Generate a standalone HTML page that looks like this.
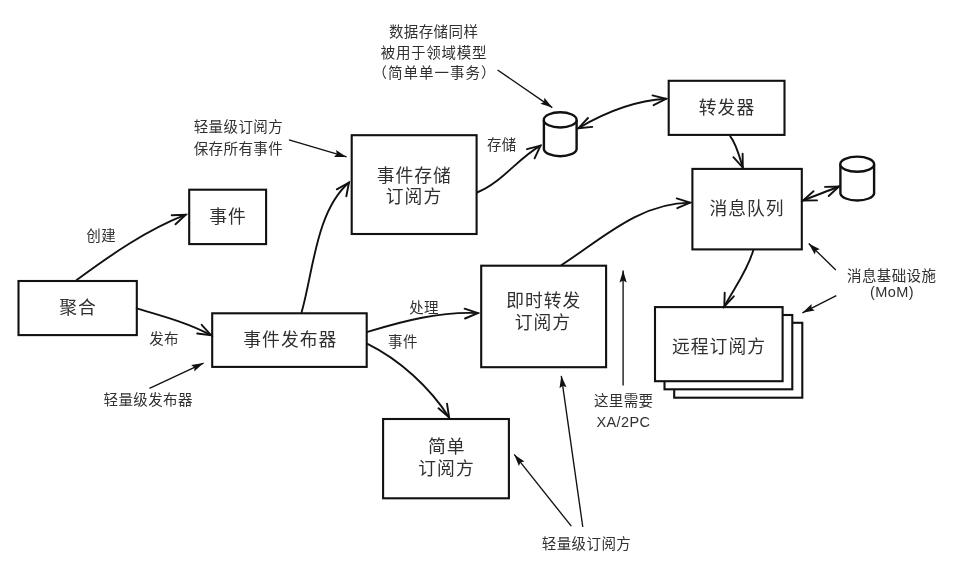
<!DOCTYPE html>
<html lang="zh-CN"><head><meta charset="utf-8"><title>事件发布与订阅</title>
<style>
html,body{margin:0;padding:0;background:#fff;}
body{width:957px;height:574px;overflow:hidden;}
svg{display:block;filter:grayscale(1) blur(0.45px);}
svg text{font-family:"Liberation Sans", "Noto Sans CJK SC", sans-serif;fill:#303030;font-weight:400;}
</style></head><body>
<svg width="957" height="574" viewBox="0 0 957 574">
<rect width="957" height="574" fill="#fff"/>
<rect x="674.2" y="322.8" width="128.1" height="74.9" fill="#fff" stroke="#111" stroke-width="2.1"/>
<rect x="664.5" y="315.0" width="127.8" height="74.3" fill="#fff" stroke="#111" stroke-width="2.1"/>
<rect x="655.0" y="307.1" width="127.6" height="74.1" fill="#fff" stroke="#111" stroke-width="2.1"/>
<rect x="18.5" y="281.0" width="118.3" height="54.1" fill="#fff" stroke="#111" stroke-width="2.1"/>
<rect x="189.2" y="189.7" width="76.9" height="54.4" fill="#fff" stroke="#111" stroke-width="2.1"/>
<rect x="212.2" y="313.3" width="154.5" height="53.6" fill="#fff" stroke="#111" stroke-width="2.1"/>
<rect x="351.7" y="135.2" width="124.9" height="98.8" fill="#fff" stroke="#111" stroke-width="2.1"/>
<rect x="481.2" y="265.7" width="124.9" height="101.5" fill="#fff" stroke="#111" stroke-width="2.1"/>
<rect x="383.1" y="419.0" width="125.8" height="79.3" fill="#fff" stroke="#111" stroke-width="2.1"/>
<rect x="668.7" y="80.8" width="115.8" height="54.1" fill="#fff" stroke="#111" stroke-width="2.1"/>
<rect x="692.4" y="168.9" width="109.4" height="80.5" fill="#fff" stroke="#111" stroke-width="2.1"/>
<path d="M543.9,119.9 L543.9,149.2 A16.4,7.6 0 0 0 576.6,149.2 L576.6,119.9" fill="#fff" stroke="#111" stroke-width="2.4"/>
<ellipse cx="560.2" cy="119.9" rx="16.4" ry="7.6" fill="#fff" stroke="#111" stroke-width="2.4"/>
<path d="M840.4,164.2 L840.4,193.5 A16.9,7.6 0 0 0 874.1,193.5 L874.1,164.2" fill="#fff" stroke="#111" stroke-width="2.4"/>
<ellipse cx="857.2" cy="164.2" rx="16.9" ry="7.6" fill="#fff" stroke="#111" stroke-width="2.4"/>
<path d="M76.7,280.0 C110.8,254.9 146.0,230.3 185.7,214.7" fill="none" stroke="#111" stroke-width="1.9" stroke-linecap="round"/>
<path d="M175.5,224.3 L185.7,214.7 L171.7,215.3" fill="none" stroke="#111" stroke-width="1.9" stroke-linecap="round" stroke-linejoin="miter"/>
<path d="M136.7,308.4 C161.8,315.8 187.9,322.7 211.1,335.2" fill="none" stroke="#111" stroke-width="1.9" stroke-linecap="round"/>
<path d="M197.2,333.5 L211.1,335.2 L201.7,324.8" fill="none" stroke="#111" stroke-width="1.9" stroke-linecap="round" stroke-linejoin="miter"/>
<path d="M301.6,312.2 C313.2,272.5 315.7,211.3 349.0,182.5" fill="none" stroke="#111" stroke-width="1.9" stroke-linecap="round"/>
<path d="M346.3,196.2 L349.0,182.5 L336.8,189.3" fill="none" stroke="#111" stroke-width="1.9" stroke-linecap="round" stroke-linejoin="miter"/>
<path d="M477.0,192.5 C502.2,182.3 517.5,158.7 540.5,145.6" fill="none" stroke="#111" stroke-width="1.9" stroke-linecap="round"/>
<path d="M534.6,158.3 L540.5,145.6 L527.0,149.2" fill="none" stroke="#111" stroke-width="1.9" stroke-linecap="round" stroke-linejoin="miter"/>
<path d="M578.4,128.2 C605.0,112.4 635.0,100.6 666.1,98.8" fill="none" stroke="#111" stroke-width="1.9" stroke-linecap="round"/>
<path d="M653.6,105.2 L666.1,98.8 L652.5,95.4" fill="none" stroke="#111" stroke-width="1.9" stroke-linecap="round" stroke-linejoin="miter"/>
<path d="M588.0,118.0 L578.4,128.2 L592.3,126.9" fill="none" stroke="#111" stroke-width="1.9" stroke-linecap="round" stroke-linejoin="miter"/>
<path d="M730.3,136.3 C736.7,144.5 739.7,157.8 742.8,167.6" fill="none" stroke="#111" stroke-width="1.9" stroke-linecap="round"/>
<path d="M733.4,157.2 L742.8,167.6 L742.6,153.6" fill="none" stroke="#111" stroke-width="1.9" stroke-linecap="round" stroke-linejoin="miter"/>
<path d="M561.6,265.0 C601.3,239.2 639.7,202.8 690.1,202.6" fill="none" stroke="#111" stroke-width="1.9" stroke-linecap="round"/>
<path d="M677.3,208.2 L690.1,202.6 L676.7,198.4" fill="none" stroke="#111" stroke-width="1.9" stroke-linecap="round" stroke-linejoin="miter"/>
<path d="M803.0,200.5 C815.0,195.7 827.0,191.3 839.0,186.5" fill="none" stroke="#111" stroke-width="1.9" stroke-linecap="round"/>
<path d="M828.7,196.0 L839.0,186.5 L825.0,186.9" fill="none" stroke="#111" stroke-width="1.9" stroke-linecap="round" stroke-linejoin="miter"/>
<path d="M813.5,191.2 L803.0,200.5 L817.0,200.4" fill="none" stroke="#111" stroke-width="1.9" stroke-linecap="round" stroke-linejoin="miter"/>
<path d="M753.2,250.4 C747.4,270.9 734.2,288.1 724.3,306.6" fill="none" stroke="#111" stroke-width="1.9" stroke-linecap="round"/>
<path d="M724.7,292.6 L724.3,306.6 L733.8,296.3" fill="none" stroke="#111" stroke-width="1.9" stroke-linecap="round" stroke-linejoin="miter"/>
<path d="M367.5,331.9 C403.3,320.9 440.1,311.4 477.9,313.1" fill="none" stroke="#111" stroke-width="1.9" stroke-linecap="round"/>
<path d="M465.0,318.5 L477.9,313.1 L464.6,308.7" fill="none" stroke="#111" stroke-width="1.9" stroke-linecap="round" stroke-linejoin="miter"/>
<path d="M367.5,343.9 C399.7,359.7 429.6,387.3 449.1,417.4" fill="none" stroke="#111" stroke-width="1.9" stroke-linecap="round"/>
<path d="M438.5,408.3 L449.1,417.4 L447.0,403.6" fill="none" stroke="#111" stroke-width="1.9" stroke-linecap="round" stroke-linejoin="miter"/>
<line x1="289.0" y1="139.8" x2="346.6" y2="156.9" stroke="#111" stroke-width="1.35"/>
<path d="M346.6,156.9 L334.0,156.9 L336.9,154.0 L336.0,150.0 Z" fill="#111"/>
<line x1="149.5" y1="388.4" x2="203.6" y2="363.1" stroke="#111" stroke-width="1.35"/>
<path d="M203.6,363.1 L194.2,371.5 L194.5,367.4 L191.1,365.0 Z" fill="#111"/>
<line x1="497.6" y1="70.0" x2="552.3" y2="107.6" stroke="#111" stroke-width="1.35"/>
<path d="M552.3,107.6 L540.3,103.7 L544.0,101.9 L544.4,97.8 Z" fill="#111"/>
<line x1="835.8" y1="270.1" x2="808.7" y2="243.4" stroke="#111" stroke-width="1.35"/>
<path d="M808.7,243.4 L819.8,249.3 L815.9,250.5 L814.8,254.4 Z" fill="#111"/>
<line x1="836.3" y1="295.6" x2="802.4" y2="312.8" stroke="#111" stroke-width="1.35"/>
<path d="M802.4,312.8 L811.6,304.1 L811.4,308.2 L814.8,310.5 Z" fill="#111"/>
<line x1="623.1" y1="385.5" x2="623.1" y2="270.5" stroke="#111" stroke-width="1.35"/>
<path d="M623.1,270.5 L626.7,282.6 L623.1,280.6 L619.5,282.6 Z" fill="#111"/>
<line x1="571.3" y1="526.2" x2="514.2" y2="454.4" stroke="#111" stroke-width="1.35"/>
<path d="M514.2,454.4 L524.5,461.6 L520.5,462.3 L518.9,466.1 Z" fill="#111"/>
<line x1="582.8" y1="527.0" x2="561.3" y2="375.8" stroke="#111" stroke-width="1.35"/>
<path d="M561.3,375.8 L566.5,387.3 L562.7,385.8 L559.5,388.3 Z" fill="#111"/>
<text x="78.1" y="308.4" font-size="17.8" text-anchor="middle" dominant-baseline="central" letter-spacing="1.0">聚合</text>
<text x="228.1" y="216.9" font-size="17.8" text-anchor="middle" dominant-baseline="central" letter-spacing="1.0">事件</text>
<text x="290.3" y="340.3" font-size="17.8" text-anchor="middle" dominant-baseline="central" letter-spacing="1.0">事件发布器</text>
<text x="414.3" y="175.6" font-size="17.8" text-anchor="middle" dominant-baseline="central" letter-spacing="1.0">事件存储</text>
<text x="414.0" y="197.3" font-size="17.8" text-anchor="middle" dominant-baseline="central" letter-spacing="1.0">订阅方</text>
<text x="543.7" y="300.9" font-size="17.8" text-anchor="middle" dominant-baseline="central" letter-spacing="1.0">即时转发</text>
<text x="542.9" y="322.6" font-size="17.8" text-anchor="middle" dominant-baseline="central" letter-spacing="1.0">订阅方</text>
<text x="446.7" y="446.6" font-size="17.8" text-anchor="middle" dominant-baseline="central" letter-spacing="1.0">简单</text>
<text x="446.5" y="469.0" font-size="17.8" text-anchor="middle" dominant-baseline="central" letter-spacing="1.0">订阅方</text>
<text x="727.0" y="108.2" font-size="17.8" text-anchor="middle" dominant-baseline="central" letter-spacing="1.0">转发器</text>
<text x="747.0" y="209.3" font-size="17.8" text-anchor="middle" dominant-baseline="central" letter-spacing="1.0">消息队列</text>
<text x="719.0" y="346.8" font-size="17.8" text-anchor="middle" dominant-baseline="central" letter-spacing="1.0">远程订阅方</text>
<text x="101.2" y="236.0" font-size="14.5" text-anchor="middle" dominant-baseline="central" letter-spacing="0.4">创建</text>
<text x="164.1" y="339.0" font-size="14.5" text-anchor="middle" dominant-baseline="central" letter-spacing="0.4">发布</text>
<text x="148.2" y="400.4" font-size="14.5" text-anchor="middle" dominant-baseline="central" letter-spacing="0.4">轻量级发布器</text>
<text x="238.4" y="127.4" font-size="14.5" text-anchor="middle" dominant-baseline="central" letter-spacing="0.4">轻量级订阅方</text>
<text x="238.4" y="148.8" font-size="14.5" text-anchor="middle" dominant-baseline="central" letter-spacing="0.4">保存所有事件</text>
<text x="433.6" y="32.0" font-size="14.5" text-anchor="middle" dominant-baseline="central" letter-spacing="0.4">数据存储同样</text>
<text x="433.9" y="52.8" font-size="14.5" text-anchor="middle" dominant-baseline="central" letter-spacing="0.7">被用于领域模型</text>
<text x="434.5" y="73.4" font-size="14.5" text-anchor="middle" dominant-baseline="central" letter-spacing="1.0">（简单单一事务）</text>
<text x="501.8" y="145.4" font-size="14.5" text-anchor="middle" dominant-baseline="central" letter-spacing="0.4">存储</text>
<text x="424.1" y="308.0" font-size="14.5" text-anchor="middle" dominant-baseline="central" letter-spacing="0.4">处理</text>
<text x="402.9" y="341.6" font-size="14.5" text-anchor="middle" dominant-baseline="central" letter-spacing="0.4">事件</text>
<text x="623.7" y="400.9" font-size="14.5" text-anchor="middle" dominant-baseline="central" letter-spacing="0.4">这里需要</text>
<text x="623.4" y="421.6" font-size="14.5" text-anchor="middle" dominant-baseline="central" letter-spacing="0.4">XA/2PC</text>
<text x="586.5" y="544.0" font-size="14.5" text-anchor="middle" dominant-baseline="central" letter-spacing="0.4">轻量级订阅方</text>
<text x="891.7" y="275.6" font-size="14.5" text-anchor="middle" dominant-baseline="central" letter-spacing="0.4">消息基础设施</text>
<text x="892.0" y="292.1" font-size="14.5" text-anchor="middle" dominant-baseline="central" letter-spacing="0.4">(MoM)</text>
</svg>
</body></html>
